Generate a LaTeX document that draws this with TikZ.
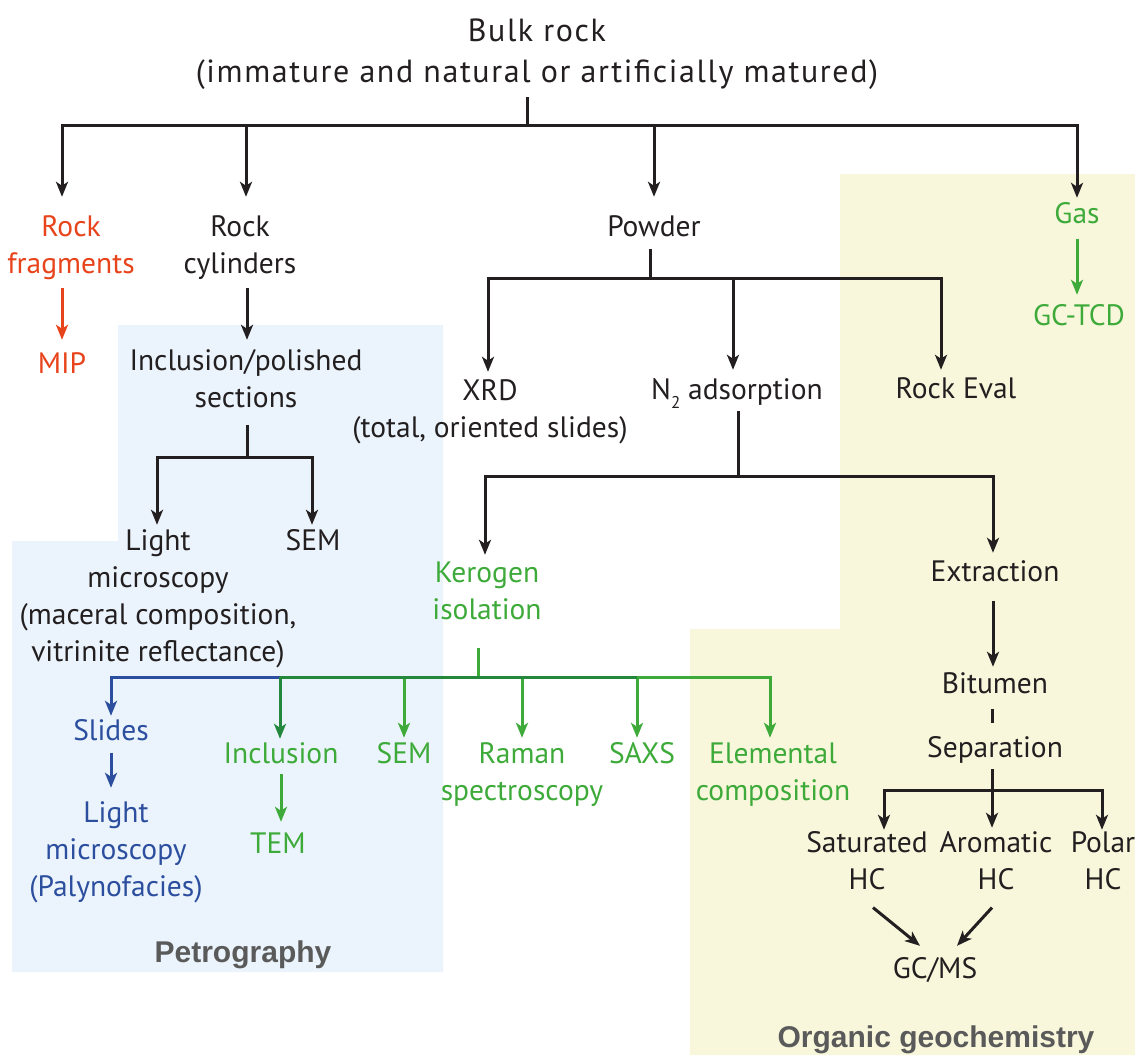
\documentclass[tikz,border=0pt]{standalone}
\usepackage{fontspec}
\setmainfont{PT Sans}
\newfontfamily\labfont{Liberation Sans}
\usetikzlibrary{arrows.meta,calc}
\definecolor{txtblack}{HTML}{231F20}
\definecolor{rred}{HTML}{E8441C}
\definecolor{ggreen}{HTML}{3DAA3A}
\definecolor{dgreen}{HTML}{23883C}
\definecolor{bblue}{HTML}{2C4E9E}
\definecolor{bgblue}{HTML}{EBF4FC}
\definecolor{bgyellow}{HTML}{F8F7DC}
\definecolor{labgray}{HTML}{5A5A5A}
\begin{document}
\begin{tikzpicture}[x=1pt,y=-1pt,
  lbl/.style={font=\fontsize{29.5}{37}\selectfont, inner sep=0pt, anchor=base, align=center, text height=21pt, text=txtblack},
  two/.style={text height=58pt},
  three/.style={text height=95pt},
  four/.style={text height=132pt},
  toplbl/.style={font=\fontsize{32}{41}\selectfont\addfontfeature{LetterSpace=5}, inner sep=0pt, anchor=base, align=center, text=txtblack},
  grouplbl/.style={font=\labfont\bfseries\fontsize{30}{30}\selectfont, inner sep=0pt, anchor=base, text=labgray},
  ln/.style={line width=3pt, draw=txtblack},
  arr/.style={ln, -{Stealth[length=15pt,width=12pt,inset=4pt]}}
]
\useasboundingbox (0,0) rectangle (1135,1055);
\fill[white] (0,0) rectangle (1135,1055);
% background areas
\fill[bgblue] (118,325) -- (443,325) -- (443,972) -- (12,972) -- (12,541) -- (118,541) -- cycle;
\fill[bgyellow] (840,174) -- (1135,174) -- (1135,1055) -- (690,1055) -- (690,629) -- (840,629) -- cycle;

% nodes (anchor base = baseline of the last line)
\node[toplbl] (bulk) at (537,82) {Bulk rock\\(immature and natural or artificially matured)};
\node[lbl, two, text=rred] (frag) at (71,273) {Rock\\fragments};
\node[lbl, text=rred] (mip) at (62,373) {MIP};
\node[lbl, two] (cyl) at (240,273) {Rock\\cylinders};
\node[lbl, two] (incl) at (246,407) {Inclusion/polished\\sections};
\node[lbl, four] (light) at (158,661) {Light\\microscopy\\(maceral composition,\\vitrinite reflectance)};
\node[lbl] (semA) at (313,550) {SEM};
\node[lbl] (powder) at (654,236) {Powder};
\node[lbl, two] (xrd) at (490,437) {XRD\\(total, oriented slides)};
\node[lbl] (n2) at (737,399) {N\raisebox{-9pt}{\fontsize{17}{17}\selectfont 2} adsorption};
\node[lbl] (rockeval) at (956,398) {Rock Eval};
\node[lbl, text=ggreen] (gas) at (1077,223) {Gas};
\node[lbl, text=ggreen] (gctcd) at (1079,325) {GC-TCD};
\node[lbl, two, text=ggreen] (kerogen) at (487,619) {Kerogen\\isolation};
\node[lbl] (extraction) at (995,581) {Extraction};
\node[lbl, text=bblue] (slides) at (111,740) {Slides};
\node[lbl, three, text=bblue] (lmp) at (116,896) {Light\\microscopy\\(Palynofacies)};
\node[lbl, text=ggreen] (inclg) at (281,763) {Inclusion};
\node[lbl, text=ggreen] (tem) at (278,853) {TEM};
\node[lbl, text=ggreen] (semg) at (404,763) {SEM};
\node[lbl, two, text=ggreen] (raman) at (522,800) {Raman\\spectroscopy};
\node[lbl, text=ggreen] (saxs) at (642,763) {SAXS};
\node[lbl, two, text=ggreen] (elem) at (773,800) {Elemental\\composition};
\node[lbl] (bitumen) at (995,693) {Bitumen};
\node[lbl] (separation) at (995,757) {Separation};
\node[lbl, two] (sat) at (867,889) {Saturated\\HC};
\node[lbl, two] (aro) at (996,889) {Aromatic\\HC};
\node[lbl, two] (polar) at (1103,889) {Polar\\HC};
\node[lbl] (gcms) at (935,978) {GC/MS};
\node[grouplbl] (petro) at (243,962) {Petrography};
\node[grouplbl] (orggeo) at (936,1047) {Organic geochemistry};

% junction coordinates
\coordinate (b0) at (527,125);
\coordinate (b1) at (247,457);
\coordinate (b2) at (650,278);
\coordinate (b3) at (738,476);
\coordinate (b4) at (992,790);
\coordinate (b5) at (478,677);
\coordinate (g1) at (280,677);
\coordinate (g2) at (637,677);

% top level
\draw[ln] ($(bulk.south)+(-10,8)$) -- (b0);
\draw[arr] (b0) -| ($(frag.north)+(-9,-18)$);
\draw[arr] (b0) -| ($(cyl.north)+(6,-18)$);
\draw[arr] (b0) -| ($(powder.north)+(0,-18)$);
\draw[arr] (b0) -| ($(gas.north)+(0,-4)$);
% rock fragments
\draw[arr, draw=rred] ($(frag.south)+(-9,9)$) -- ($(mip.north)+(0,-12)$);
% rock cylinders
\draw[arr] ($(cyl.south)+(7,9)$) -- ($(incl.north)+(1,-9)$);
\draw[ln] ($(incl.south)+(1,17)$) -- (b1);
\draw[arr] (b1) -| ($(light.north)+(-1,-4)$);
\draw[arr] (b1) -| ($(semA.north)+(-1,-4)$);
% powder
\draw[ln] ($(powder.south)+(-4,12)$) -- (b2);
\draw[arr] (b2) -| ($(xrd.north)+(-2,-7)$);
\draw[arr] (b2) -| ($(n2.north)+(-4,-8)$);
\draw[arr] (b2) -| ($(rockeval.north)+(-15,-7)$);
% N2 adsorption
\draw[ln] ($(n2.south)+(1,3)$) -- (b3);
\draw[arr] (b3) -| ($(kerogen.north)+(-2,-6)$);
\draw[arr] (b3) -| ($(extraction.north)+(-2,-7)$);
% gas
\draw[arr, draw=ggreen] ($(gas.south)+(0,15)$) -- ($(gctcd.north)+(-2,-9)$);
% extraction chain
\draw[arr] ($(extraction.south)+(-2,19)$) -- ($(bitumen.north)+(-2,-5)$);
\draw[ln] ($(bitumen.south)+(-3,15)$) -- ($(separation.north)+(-3,-13)$);
\draw[ln] ($(separation.south)+(-3,6)$) -- (b4);
\draw[arr] (b4) -| ($(sat.north)+(17,-1)$);
\draw[arr] (b4) -- ($(aro.north)+(-4,-3)$);
\draw[arr] (b4) -| ($(polar.north)+(-1,-1)$);
\draw[arr] ($(sat.south)+(6,18)$) -- ($(gcms.north)+(-15,-11)$);
\draw[arr] ($(aro.south)+(-4,18)$) -- ($(gcms.north)+(22,-11)$);
% kerogen
\draw[ln, draw=ggreen] ($(kerogen.south)+(-9,28)$) -- (b5);
\draw[arr, draw=ggreen] (b5) -| ($(semg.north)+(0,-4)$);
\draw[arr, draw=ggreen] (b5) -| ($(raman.north)+(0,-4)$);
\draw[arr, draw=ggreen] (b5) -| ($(saxs.north)+(-5,-4)$);
\draw[arr, draw=ggreen] (b5) -| ($(elem.north)+(-3,-4)$);
\draw[ln, draw=dgreen] (g1) -- (g2);
\draw[arr, draw=bblue] (g1) -| ($(slides.north)+(0,-3)$);
\draw[arr, draw=dgreen] (g1) -- ($(inclg.north)+(-1,-3)$);
\draw[arr, draw=bblue] ($(slides.south)+(0,12)$) -- ($(lmp.north)+(-5,-13)$);
\draw[arr, draw=ggreen] ($(inclg.south)+(0,10)$) -- ($(tem.north)+(3,-10)$);
\end{tikzpicture}
\end{document}
